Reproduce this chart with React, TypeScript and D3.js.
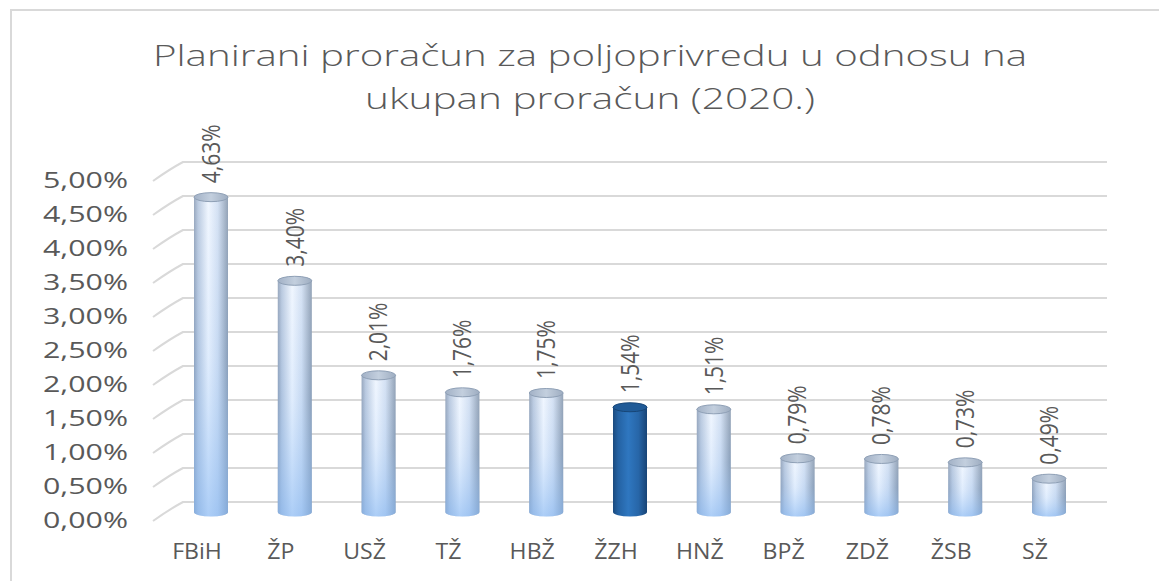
import React, { useEffect, useRef } from 'react';
import * as d3 from 'd3';

const categories = ['FBiH', 'ŽP', 'USŽ', 'TŽ', 'HBŽ', 'ŽZH', 'HNŽ', 'BPŽ', 'ZDŽ', 'ŽSB', 'SŽ'];
const shares = [4.63, 3.4, 2.01, 1.76, 1.75, 1.54, 1.51, 0.79, 0.78, 0.73, 0.49];
const highlighted = ['ŽZH'];
const yTicks = [0, 0.5, 1, 1.5, 2, 2.5, 3, 3.5, 4, 4.5, 5];
const titleLines = ['Planirani proračun za poljoprivredu u odnosu na', 'ukupan proračun (2020.)'];

const W = 1159;
const H = 581;
const FONT = "'Open Sans', 'DejaVu Sans', sans-serif";
const TEXT = '#595959';
const GRID = '#d9d9d9';

const fmt = (v: number) => v.toFixed(2).replace('.', ',') + '%';

const App: React.FC = () => {
  const svgRef = useRef<SVGSVGElement>(null);

  useEffect(() => {
    if (!svgRef.current) return;
    const svg = d3.select(svgRef.current);
    svg.selectAll('*').remove();

    // back wall of the 3d plot
    const wallLeft = 183;
    const wallRight = 1107;
    const depthX = 30; // side wall offset
    const depthY = 19;
    const barOffset = 10; // bars sit mid-depth

    const y = d3.scaleLinear().domain([0, 5]).range([502, 162]);
    const x = d3.scalePoint<string>().domain(categories).range([211, 1049]);

    const defs = svg.append('defs');

    const light = defs.append('linearGradient').attr('id', 'cylLight').attr('x1', 0).attr('x2', 1).attr('y1', 0).attr('y2', 0);
    [
      [0, '#8799b3'], [0.12, '#b0c2db'], [0.42, '#eef5ff'], [0.7, '#cddcf1'], [1, '#8193aa'],
    ].forEach(([o, c]) => light.append('stop').attr('offset', o as number).attr('stop-color', c as string));

    const lightV = defs.append('linearGradient').attr('id', 'cylLightV').attr('x1', 0).attr('x2', 0).attr('y1', 0).attr('y2', 1);
    lightV.append('stop').attr('offset', 0).attr('stop-color', '#ffffff').attr('stop-opacity', 0.15);
    lightV.append('stop').attr('offset', 0.5).attr('stop-color', '#a9cdf7').attr('stop-opacity', 0.2);
    lightV.append('stop').attr('offset', 1).attr('stop-color', '#88b8f2').attr('stop-opacity', 0.65);

    const lightTop = defs.append('linearGradient').attr('id', 'cylLightTop').attr('x1', 0).attr('x2', 1).attr('y1', 0).attr('y2', 0);
    lightTop.append('stop').attr('offset', 0).attr('stop-color', '#a2b1c6');
    lightTop.append('stop').attr('offset', 0.5).attr('stop-color', '#c3cfde');
    lightTop.append('stop').attr('offset', 1).attr('stop-color', '#9eadc1');

    const dark = defs.append('linearGradient').attr('id', 'cylDark').attr('x1', 0).attr('x2', 1).attr('y1', 0).attr('y2', 0);
    [
      [0, '#1a4a7e'], [0.15, '#2462a3'], [0.45, '#2f77c0'], [0.75, '#2766a8'], [1, '#184476'],
    ].forEach(([o, c]) => dark.append('stop').attr('offset', o as number).attr('stop-color', c as string));

    // outer chart border
    svg.append('rect')
      .attr('x', 11).attr('y', 10)
      .attr('width', W + 40).attr('height', H + 40)
      .attr('fill', 'white').attr('stroke', GRID).attr('stroke-width', 2);

    // title
    const titleY = [66, 109];
    const titleW = [874, 450];
    titleLines.forEach((t, i) => {
      svg.append('text')
        .attr('x', 590).attr('y', titleY[i])
        .attr('text-anchor', 'middle')
        .attr('textLength', titleW[i])
        .attr('lengthAdjust', 'spacingAndGlyphs')
        .style('font-family', FONT)
        .style('font-size', '30px')
        .style('font-weight', 300)
        .style('fill', TEXT)
        .text(t);
    });

    // gridlines: side wall diagonal + back wall
    const grid = svg.append('g');
    yTicks.forEach(t => {
      const yb = y(t);
      grid.append('path')
        .attr('d', `M${wallLeft - depthX},${yb + depthY} Q${wallLeft - depthX * 0.45},${yb + depthY * 0.38} ${wallLeft},${yb} L${wallRight},${yb}`)
        .attr('fill', 'none')
        .attr('stroke', GRID)
        .attr('stroke-width', 2);
    });

    // y tick labels on the front edge
    svg.append('g')
      .selectAll('text')
      .data(yTicks)
      .enter().append('text')
      .attr('x', 128)
      .attr('y', d => y(d) + depthY)
      .attr('dy', '0.35em')
      .attr('text-anchor', 'end')
      .attr('textLength', 85)
      .attr('lengthAdjust', 'spacingAndGlyphs')
      .style('font-family', FONT)
      .style('font-size', '21px')
      .style('fill', TEXT)
      .text(d => fmt(d));

    // cylinders
    const r = 17;
    const ry = 4.5;
    const data = categories.map((c, i) => ({ name: c, value: shares[i] }));
    const bars = svg.append('g');
    data.forEach(d => {
      const cx = x(d.name) || 0;
      const top = y(d.value) + barOffset;
      const base = y(0) + barOffset;
      const isDark = highlighted.includes(d.name);
      const body = `M${cx - r},${top} L${cx - r},${base} A${r},${ry} 0 0 0 ${cx + r},${base} L${cx + r},${top} Z`;
      bars.append('path').attr('d', body).attr('fill', isDark ? 'url(#cylDark)' : 'url(#cylLight)');
      if (!isDark) bars.append('path').attr('d', body).attr('fill', 'url(#cylLightV)');
      bars.append('ellipse')
        .attr('cx', cx).attr('cy', top)
        .attr('rx', r).attr('ry', ry)
        .attr('fill', isDark ? '#1f5a97' : 'url(#cylLightTop)')
        .attr('stroke', isDark ? '#174677' : '#8fa0b6')
        .attr('stroke-width', 1);

      // value label, rotated (stretched across like the source)
      bars.append('text')
        .attr('transform', `translate(${cx},${top - 14}) scale(1.2,1) rotate(-90)`)
        .attr('dy', '0.35em')
        .attr('text-anchor', 'start')
        .style('font-family', FONT)
        .style('font-size', '21px')
        .style('fill', TEXT)
        .text(fmt(d.value));
    });

    // category labels on the front edge
    svg.append('g')
      .selectAll('text')
      .data(categories)
      .enter().append('text')
      .attr('transform', d => `translate(${(x(d) || 0) - 14},552) scale(1.1,1)`)
      .attr('dy', '0.35em')
      .attr('text-anchor', 'middle')
      .style('font-family', FONT)
      .style('font-size', '21px')
      .style('fill', TEXT)
      .text(d => d);
  }, []);

  return (
    <div style={{ position: 'fixed', left: 0, top: 0, width: W, height: H, background: 'white' }}>
      <svg ref={svgRef} width={W} height={H} style={{ display: 'block' }}></svg>
    </div>
  );
};

export default App;
